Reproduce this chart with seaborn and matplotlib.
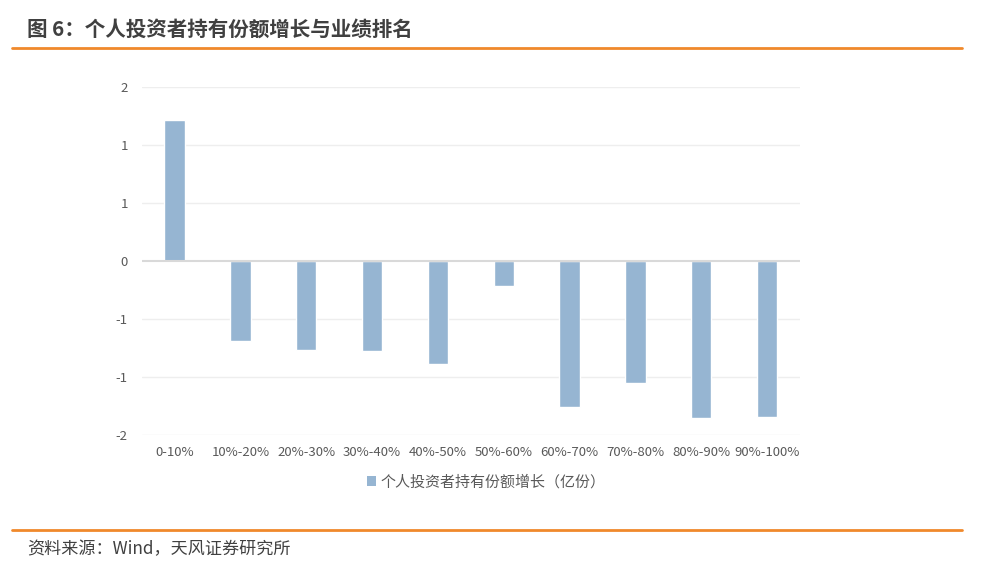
import matplotlib
matplotlib.use("Agg")
import matplotlib.pyplot as plt
import seaborn as sns
import pandas as pd
from matplotlib.lines import Line2D
from matplotlib.patches import Patch

categories = ["0-10%", "10%-20%", "20%-30%", "30%-40%", "40%-50%",
              "50%-60%", "60%-70%", "70%-80%", "80%-90%", "90%-100%"]
values = [1.213, -0.692, -0.767, -0.779, -0.885, -0.216, -1.259, -1.052, -1.353, -1.345]
ytick_values = [1.5, 1.0, 0.5, 0.0, -0.5, -1.0, -1.5]
ytick_labels = ["2", "1", "1", "0", "-1", "-1", "-2"]
series_name = "个人投资者持有份额增长（亿份）"
title = "图 6：个人投资者持有份额增长与业绩排名"
source = "资料来源：Wind，天风证券研究所"

sns.set_theme(style="white")
plt.rcParams['font.family'] = ['Noto Sans CJK SC', 'DejaVu Sans']
plt.rcParams['axes.unicode_minus'] = False

bar_color = "#96B5D2"
orange = "#F0892B"
text_gray = "#595959"

df = pd.DataFrame({"cat": categories, "val": values})

fig = plt.figure(figsize=(9.84, 5.71), dpi=100)
ax = fig.add_axes([141.7/984, 1 - 435/571, (800 - 141.7)/984, (435 - 87)/571])

sns.barplot(data=df, x="cat", y="val", color=bar_color, width=0.31,
            saturation=1, ax=ax, zorder=3)

ax.set_ylim(-1.5, 1.5)
ax.set_xlim(-0.5, len(categories) - 0.5)
ax.set_yticks(ytick_values)
ax.set_yticklabels(ytick_labels)
ax.set_xlabel("")
ax.set_ylabel("")
for sp in ax.spines.values():
    sp.set_visible(False)
for y in ytick_values:
    if y != 0:
        ax.axhline(y, color="#EEEEEE", lw=1.0, zorder=1)
ax.axhline(0, color="#D9D9D9", lw=1.5, zorder=4)
ax.tick_params(axis="both", length=0, colors=text_gray, labelsize=9.5)
ax.tick_params(axis="y", pad=10)
ax.tick_params(axis="x", pad=8)

# legend
handles = [Patch(facecolor=bar_color, edgecolor="none", label=series_name)]
fig.legend(handles=handles, loc="center", bbox_to_anchor=(486/984, 1 - 482/571),
           frameon=False, fontsize=10.8, handlelength=0.6, handleheight=0.6,
           handletextpad=0.3, labelcolor=text_gray)

# header / footer
fig.text(27/984, 1 - 29/571, title, fontsize=14.8, fontweight="bold",
         color="#404040", va="center", ha="left")
fig.add_artist(Line2D([12/984, 962/984], [1 - 48/571, 1 - 48/571],
                      color=orange, lw=2, transform=fig.transFigure))
fig.add_artist(Line2D([12/984, 962/984], [1 - 529.5/571, 1 - 529.5/571],
                      color=orange, lw=2, transform=fig.transFigure))
fig.text(27/984, 1 - 549/571, source, fontsize=12.3, color="#404040",
         va="center", ha="left")

fig.savefig("out.png", dpi=100)
